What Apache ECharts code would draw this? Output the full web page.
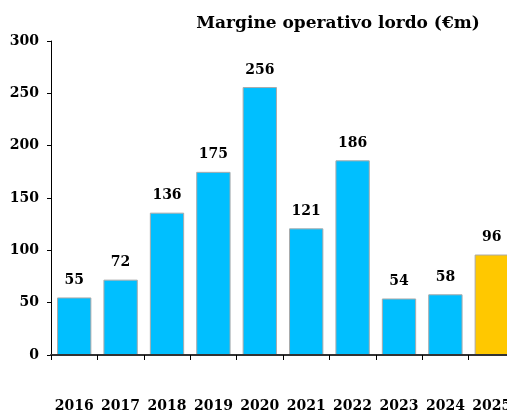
<!DOCTYPE html>
<html>
<head>
<meta charset="utf-8">
<script src="https://cdn.jsdelivr.net/npm/echarts@6/dist/echarts.min.js"></script>
<style>
    html, body { margin: 0; padding: 0; background: #fff; }
    #chart { width: 507px; height: 410px; }
</style>
</head>
<body>
<div id="chart"></div>
<script>
var years = ['2016', '2017', '2018', '2019', '2020', '2021', '2022', '2023', '2024', '2025'];
var mol = [55, 72, 136, 175, 256, 121, 186, 54, 58, 96];
var highlightYear = '2025';

var serif = '"DejaVu Serif", serif';

var chart = echarts.init(document.getElementById('chart'));

// l'ultimo anno in giallo
var barData = mol.map(function (v, i) {
    return {
        value: v,
        itemStyle: { color: years[i] === highlightYear ? '#FFC800' : '#00BFFF' }
    };
});

var option = {
    animation: false,
    title: {
        text: 'Margine operativo lordo (€m)',
        left: 333,
        textAlign: 'center',
        top: 10,
        textStyle: {
            fontFamily: serif,
            fontSize: 17,
            fontWeight: 'bold',
            color: '#000'
        }
    },
    grid: {
        left: 51,
        width: 464,
        top: 41,
        bottom: 55,
        outerBoundsMode: 'none'
    },
    xAxis: {
        type: 'category',
        data: years,
        z: 3,
        axisLine: { lineStyle: { color: '#333', width: 2 } },
        axisTick: { show: true, length: 5, lineStyle: { color: '#000' } },
        axisLabel: {
            interval: 0,
            margin: 44,
            fontFamily: serif,
            fontSize: 14,
            fontWeight: 'bold',
            color: '#000'
        }
    },
    yAxis: {
        type: 'value',
        min: 0,
        max: 300,
        interval: 50,
        splitLine: { show: false },
        axisLine: { show: true, lineStyle: { color: '#000', width: 1 } },
        axisTick: { show: true, length: 4, lineStyle: { color: '#000' } },
        axisLabel: {
            margin: 12,
            fontFamily: serif,
            fontSize: 14,
            fontWeight: 'bold',
            color: '#000'
        }
    },
    series: [
        {
            type: 'bar',
            data: barData,
            barWidth: '74%',
            itemStyle: { borderColor: '#aaaaaa', borderWidth: 1 },
            label: {
                show: true,
                position: 'top',
                distance: 10,
                fontFamily: serif,
                fontSize: 14,
                fontWeight: 'bold',
                color: '#000'
            }
        }
    ]
};

chart.setOption(option);
</script>
</body>
</html>
